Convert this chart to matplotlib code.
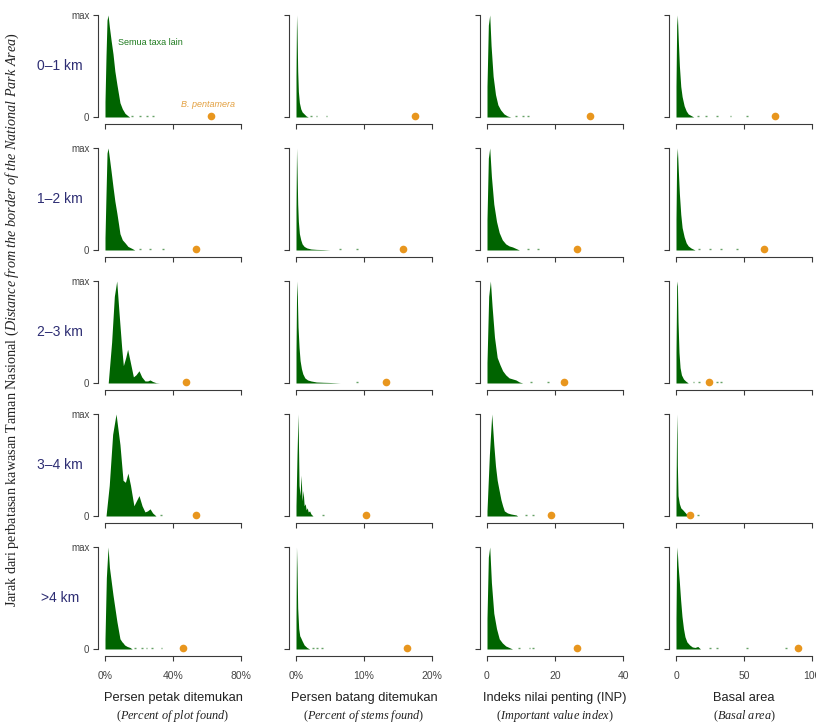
import matplotlib.pyplot as plt

plt.rcParams['font.family'] = 'Liberation Sans'
plt.rcParams['mathtext.fontset'] = 'custom'
plt.rcParams['mathtext.rm'] = 'Liberation Serif'
plt.rcParams['mathtext.it'] = 'Liberation Serif:italic'

GREEN = '#006400'
ORANGE = '#E8961E'
AXIS = '#3a3a3a'
ROWCOL = '#2D2D73'

row_labels = ['0–1 km', '1–2 km', '2–3 km', '3–4 km', '>4 km']

# density of all other taxa (scaled so the peak = 1), one list per distance band
# col 1: percent of plots where found (%)
plot_x = [
    [0, 0.6, 1.2, 1.8, 2.6, 3.6, 4.7, 5.8, 7.0, 8.0, 8.8, 10.2, 11.8, 13.5, 14.5],
    [0, 0.6, 1.2, 1.8, 2.6, 3.6, 4.7, 5.8, 7.0, 8.0, 8.8, 10.2, 11.8, 13.5, 15.9, 17.5],
    [1.9, 3.9, 5.5, 6.9, 8.2, 9.8, 10.8, 12.2, 13.3, 14.7, 16.7, 18.2, 20.0, 21.6, 23.5, 25.1, 26.5, 28.0, 30.0, 32.0],
    [0.6, 2.5, 4.5, 6.5, 8.8, 10.6, 12.0, 13.5, 15.0, 17.0, 18.5, 20.0, 21.8, 23.5, 25.0, 26.5, 28.0, 30.0],
    [0, 0.8, 1.8, 2.6, 4.7, 7.0, 8.8, 10.0, 10.6, 11.5, 13.0, 14.7, 16.0],
]
plot_y = [
    [0.15, 0.6, 0.95, 1.0, 0.88, 0.75, 0.62, 0.45, 0.32, 0.22, 0.14, 0.08, 0.035, 0.012, 0],
    [0.12, 0.55, 0.95, 1.0, 0.9, 0.77, 0.62, 0.48, 0.36, 0.25, 0.16, 0.1, 0.07, 0.035, 0.015, 0],
    [0, 0.4, 0.85, 1.0, 0.7, 0.35, 0.17, 0.25, 0.33, 0.22, 0.06, 0.08, 0.12, 0.06, 0.02, 0.02, 0.03, 0.015, 0.003, 0],
    [0, 0.3, 0.8, 1.0, 0.7, 0.35, 0.33, 0.42, 0.3, 0.1, 0.15, 0.2, 0.1, 0.04, 0.05, 0.07, 0.03, 0],
    [0.1, 0.7, 1.0, 0.8, 0.53, 0.27, 0.1, 0.07, 0.06, 0.04, 0.025, 0.015, 0],
]
plot_blips = [[16, 20.6, 24.7, 28.2], [20.6, 26.5, 34], [], [33], [17.6, 21.6, 24.5, 27.5, 33.3]]

# col 2: percent of stems found (%)
stems_x = [
    [0, 0.08, 0.15, 0.25, 0.35, 0.5, 0.7, 0.9, 1.2, 1.5, 1.8],
    [0, 0.08, 0.15, 0.25, 0.35, 0.5, 0.7, 0.9, 1.2, 1.6, 2.2, 3.0, 4.0, 5.0],
    [0, 0.1, 0.2, 0.3, 0.45, 0.6, 0.8, 1.0, 1.3, 1.7, 2.2, 3.0, 4.0, 5.0, 6.5],
    [0, 0.15, 0.3, 0.45, 0.6, 0.75, 0.9, 1.05, 1.2, 1.35, 1.5, 1.65, 1.8, 2.0, 2.2, 2.5],
    [0, 0.07, 0.15, 0.25, 0.4, 0.55, 0.7, 0.9, 1.2, 1.6, 2.0],
]
stems_y = [
    [0.4, 1.0, 0.85, 0.45, 0.25, 0.14, 0.08, 0.05, 0.03, 0.01, 0],
    [0.4, 1.0, 0.8, 0.45, 0.28, 0.16, 0.1, 0.06, 0.035, 0.02, 0.01, 0.006, 0.004, 0],
    [0.3, 1.0, 0.85, 0.55, 0.35, 0.22, 0.14, 0.09, 0.05, 0.03, 0.02, 0.01, 0.007, 0.005, 0],
    [0.1, 0.6, 1.0, 0.3, 0.2, 0.4, 0.15, 0.25, 0.1, 0.12, 0.06, 0.08, 0.04, 0.05, 0.02, 0],
    [0.3, 1.0, 0.8, 0.4, 0.2, 0.13, 0.11, 0.08, 0.04, 0.015, 0],
]
stems_blips = [[2.2, 3.0, 4.5], [6.5, 9.0], [9.0], [4.0], [2.5, 3.1, 3.8]]

# col 3: important value index (INP)
inp_x = [
    [0, 0.4, 0.8, 1.2, 1.8, 2.5, 3.2, 4.0, 5.0, 6.0, 7.0],
    [0, 0.4, 0.8, 1.3, 2.0, 2.8, 3.6, 4.5, 5.5, 6.5, 7.5, 8.5, 9.5],
    [0, 0.5, 1.0, 1.5, 2.2, 3.0, 3.8, 4.6, 5.5, 6.5, 7.5, 8.5, 9.5, 10.5],
    [0, 0.7, 1.4, 2.0, 2.5, 3.0, 3.4, 4.1, 4.6, 5.1, 6.0, 7.0, 8.6, 9.0],
    [0, 0.4, 0.8, 1.3, 2.0, 2.8, 3.6, 4.5, 5.5, 6.5, 7.5],
]
inp_y = [
    [0.3, 0.9, 1.0, 0.7, 0.4, 0.22, 0.12, 0.07, 0.03, 0.01, 0],
    [0.3, 0.9, 1.0, 0.72, 0.45, 0.28, 0.17, 0.1, 0.06, 0.04, 0.03, 0.015, 0],
    [0.2, 0.85, 1.0, 0.75, 0.45, 0.25, 0.18, 0.12, 0.08, 0.05, 0.04, 0.03, 0.01, 0],
    [0.05, 0.6, 1.0, 0.7, 0.49, 0.35, 0.28, 0.16, 0.1, 0.05, 0.03, 0.02, 0.01, 0],
    [0.3, 0.9, 1.0, 0.65, 0.35, 0.2, 0.1, 0.06, 0.03, 0.015, 0],
]
inp_blips = [[8.5, 10.5, 12], [12, 15], [13, 18], [11.5, 13.5], [9.5, 12.5, 13.5]]

# col 4: basal area
basal_x = [
    [0, 0.5, 1.0, 1.7, 2.5, 3.5, 4.5, 6.0, 7.5, 9.0, 11.0, 13.0],
    [0, 0.5, 1.0, 1.7, 2.5, 3.5, 4.5, 6.0, 7.5, 9.0, 11.0, 14.0],
    [0, 0.5, 1.0, 1.5, 2.2, 3.0, 4.0, 5.5, 7.0, 9.0],
    [0, 0.4, 0.7, 1.0, 1.5, 2.5, 3.5, 5.0, 7.0, 9.0],
    [0, 0.4, 0.8, 1.5, 2.4, 3.4, 4.4, 5.5, 6.6, 8.0, 10.0, 12.0, 14.0, 16.0, 18.0],
]
basal_y = [
    [0.3, 0.9, 1.0, 0.75, 0.5, 0.3, 0.2, 0.11, 0.06, 0.03, 0.015, 0],
    [0.3, 0.9, 1.0, 0.78, 0.55, 0.35, 0.22, 0.13, 0.07, 0.04, 0.02, 0],
    [0.3, 0.95, 1.0, 0.6, 0.3, 0.15, 0.08, 0.04, 0.02, 0],
    [0.2, 0.8, 1.0, 0.5, 0.2, 0.12, 0.08, 0.06, 0.03, 0],
    [0.3, 0.85, 1.0, 0.82, 0.67, 0.48, 0.32, 0.2, 0.12, 0.07, 0.04, 0.02, 0.015, 0.025, 0],
]
basal_blips = [[16, 22, 30, 40, 52], [17, 25, 33, 45], [13, 17, 30, 33], [16], [25, 30, 52, 81]]

# B. pentamera value for each distance band
pent_plot = [62.3, 53.5, 47.6, 53.5, 45.9]
pent_stems = [17.5, 15.7, 13.2, 10.3, 16.3]
pent_inp = [30.2, 26.6, 22.5, 18.9, 26.6]
pent_basal = [73, 65, 24, 10, 90]

columns = [
    (plot_x, plot_y, plot_blips, pent_plot, 80, ['0%', '40%', '80%'],
     'Persen petak ditemukan', r'($\mathit{Percent\ of\ plot\ found}$)'),
    (stems_x, stems_y, stems_blips, pent_stems, 20, ['0%', '10%', '20%'],
     'Persen batang ditemukan', r'($\mathit{Percent\ of\ stems\ found}$)'),
    (inp_x, inp_y, inp_blips, pent_inp, 40, ['0', '20', '40'],
     'Indeks nilai penting (INP)', r'($\mathit{Important\ value\ index}$)'),
    (basal_x, basal_y, basal_blips, pent_basal, 100, ['0', '50', '100'],
     'Basal area', r'($\mathit{Basal\ area}$)'),
]

W, H = 816, 724
fig = plt.figure(figsize=(W / 100, H / 100), dpi=100)

zero_x = [105, 296, 487, 676]   # pixel position of x = 0 in each column
span = 136                      # pixels from 0 to xmax
pad = 0.048
ylo, yhi = -0.07, 1.04

for c, (xs, ys, blips, pent, xmax, xlabs, lab1, lab2) in enumerate(columns):
    for r in range(5):
        max_y = 15 + 133 * r
        top = max_y - 0.04 * 102
        hgt = 102 * (yhi - ylo)
        left = zero_x[c] - pad * span
        wid = span * (1 + 2 * pad)
        ax = fig.add_axes([left / W, 1 - (top + hgt) / H, wid / W, hgt / H])

        ax.fill_between(xs[r], ys[r], 0, color=GREEN, lw=0)
        for b in blips[r]:
            ax.plot([b - xmax * 0.006, b + xmax * 0.006], [0.006, 0.006],
                    color=GREEN, lw=1.0, alpha=0.6, solid_capstyle='butt')
        ax.plot(pent[r], 0.01, 'o', color=ORANGE, ms=5.5, mec='none')

        ax.set_xlim(-pad * xmax, xmax * (1 + pad))
        ax.set_ylim(ylo, yhi)
        for s in ['top', 'right']:
            ax.spines[s].set_visible(False)
        for s in ['left', 'bottom']:
            ax.spines[s].set_color(AXIS)
            ax.spines[s].set_linewidth(0.8)
        ax.spines['left'].set_bounds(0, 1)
        ax.spines['bottom'].set_bounds(0, xmax)
        ax.tick_params(length=3.5, width=0.8, color=AXIS, labelsize=7,
                       labelcolor='#444444', pad=3)
        ax.set_xticks([0, xmax / 2, xmax])
        ax.set_yticks([0, 1])
        if r == 4:
            ax.set_xticklabels(xlabs)
            ax.tick_params(axis='x', pad=7, labelsize=7.5)
        else:
            ax.set_xticklabels([])
        if c == 0:
            ax.set_yticklabels(['0', 'max'])
            fig.text(60 / W, 1 - (max_y + 51) / H, row_labels[r],
                     ha='center', va='center', fontsize=10, color=ROWCOL)
        else:
            ax.set_yticklabels([])
        ax.patch.set_visible(False)

        if r == 0 and c == 0:
            ax.text(7.6, 0.73, 'Semua taxa lain', color='#1E7B1E', fontsize=6.5,
                    ha='left', va='center')
            ax.text(60.6, 0.12, 'B. pentamera', color='#E3A040', fontsize=6.5,
                    ha='center', va='center', style='italic')

    cx = (zero_x[c] + span / 2) / W
    fig.text(cx, 1 - 698 / H, lab1, ha='center', va='center', fontsize=9.3,
             color='#222222')
    fig.text(cx, 1 - 716 / H, lab2, ha='center', va='center', fontsize=8.8,
             color='#222222', family='Liberation Serif')

fig.text(12 / W, 1 - 320 / H,
         r'Jarak dari perbatasan kawasan Taman Nasional ($\mathit{Distance\ from\ the\ border\ of\ the\ National\ Park\ Area}$)',
         rotation=90, ha='center', va='center', fontsize=10.2,
         family='Liberation Serif', color='#222222')

fig.savefig('out.png', dpi=100)
